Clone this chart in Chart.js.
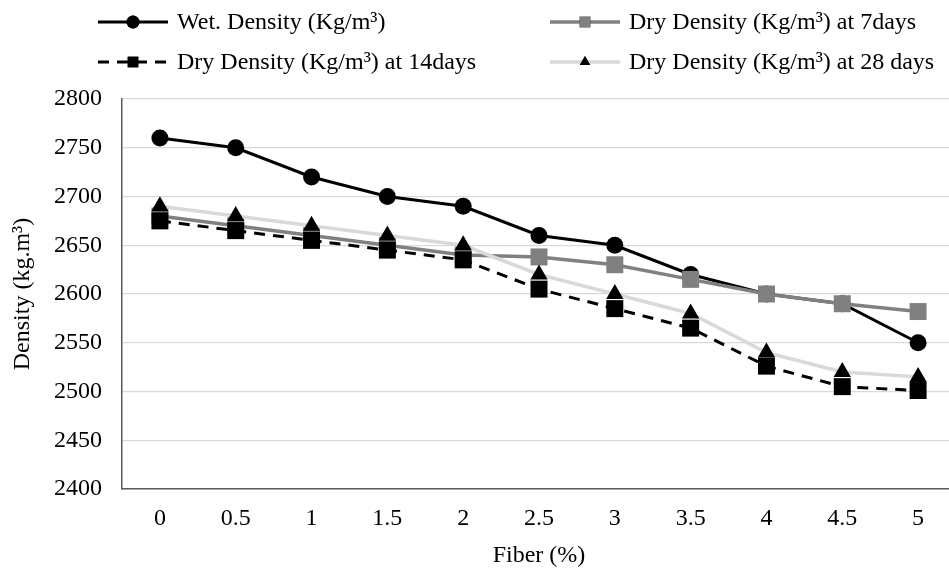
<!DOCTYPE html>
<html lang="en">
  <head>
    <meta charset="UTF-8" />
    <title>Density vs Fiber</title>
    <script src="https://cdn.jsdelivr.net/npm/chart.js"></script>
    <style>
      html, body { margin: 0; padding: 0; background: #fff; overflow: hidden; }
      #wrap { width: 949px; height: 575px; overflow: hidden; }
    </style>
  </head>
  <body>
    <div id="wrap">
      <canvas id="chart" width="968" height="575"></canvas>
    </div>

    <script>
      const fiber = ["0", "0.5", "1", "1.5", "2", "2.5", "3", "3.5", "4", "4.5", "5"];
      const wetDensity = [2760, 2750, 2720, 2700, 2690, 2660, 2650, 2620, 2600, 2590, 2550];
      const dry7 = [2680, 2670, 2660, 2650, 2640, 2638, 2630, 2615, 2600, 2590, 2582];
      const dry14 = [2675, 2665, 2655, 2645, 2635, 2605, 2585, 2565, 2526, 2505, 2501];
      const dry28 = [2690, 2680, 2670, 2660, 2650, 2620, 2600, 2580, 2540, 2520, 2515];

      const FONT = "'Liberation Serif', 'Times New Roman', serif";
      const SIZE = 24;

      // legend drawn by hand: line with marker in the middle, 2 columns x 2 rows
      const legendSpots = [
        { x: 98, y: 22 },
        { x: 550, y: 22 },
        { x: 98, y: 62 },
        { x: 550, y: 62 },
      ];
      const legendMarkers = [
        { style: "circle", r: 6.5 },
        { style: "rect", r: 7.5 },
        { style: "rect", r: 7.5 },
        { style: "triangle", r: 6 },
      ];

      const legendPlugin = {
        id: "lineLegend",
        afterDraw(chart) {
          const ctx = chart.ctx;
          chart.data.datasets.forEach((ds, i) => {
            const p = legendSpots[i];
            const m = legendMarkers[i];
            ctx.save();
            ctx.strokeStyle = ds.borderColor;
            ctx.lineWidth = ds.borderWidth;
            ctx.setLineDash(ds.borderDash || []);
            ctx.beginPath();
            ctx.moveTo(p.x, p.y);
            ctx.lineTo(p.x + 70, p.y);
            ctx.stroke();
            ctx.setLineDash([]);
            Chart.helpers.drawPoint(ctx, {
              pointStyle: m.style,
              radius: m.r,
              rotation: 0,
              borderWidth: 0,
            }, p.x + 35, p.y);
            ctx.fillStyle = ds.pointBackgroundColor;
            ctx.fill();
            ctx.fillStyle = "#000";
            ctx.font = SIZE + "px " + FONT;
            ctx.textBaseline = "middle";
            ctx.fillText(ds.label, p.x + 79, p.y + 1);
            ctx.restore();
          });
        },
      };

      new Chart(document.getElementById("chart"), {
        type: "line",
        data: {
          labels: fiber,
          datasets: [
            {
              label: "Wet. Density (Kg/m³)",
              data: wetDensity,
              borderColor: "#000000",
              borderWidth: 3,
              pointStyle: "circle",
              pointRadius: 8.5,
              pointBackgroundColor: "#000000",
              pointBorderWidth: 0,
              order: 3,
            },
            {
              label: "Dry Density (Kg/m³) at 7days",
              data: dry7,
              borderColor: "#808080",
              borderWidth: 3.5,
              pointStyle: "rect",
              pointRadius: 12,
              pointBackgroundColor: "#808080",
              pointBorderWidth: 0,
              order: 2,
            },
            {
              label: "Dry Density (Kg/m³) at 14days",
              data: dry14,
              borderColor: "#000000",
              borderWidth: 3,
              borderDash: [11, 8],
              pointStyle: "rect",
              pointRadius: 12,
              pointBackgroundColor: "#000000",
              pointBorderWidth: 0,
              order: 1,
            },
            {
              label: "Dry Density (Kg/m³) at 28 days",
              data: dry28,
              borderColor: "#d9d9d9",
              borderWidth: 3.5,
              pointStyle: "triangle",
              pointRadius: 10,
              pointBackgroundColor: "#000000",
              pointBorderWidth: 0,
              order: 0,
            },
          ],
        },
        options: {
          responsive: false,
          animation: false,
          layout: { padding: { top: 99, right: 0, bottom: 5, left: 0 } },
          elements: { line: { tension: 0 } },
          plugins: {
            legend: { display: false },
            tooltip: { enabled: false },
          },
          scales: {
            x: {
              offset: true,
              afterFit: (scale) => { scale.height = 81; },
              grid: { display: false, drawTicks: false, offset: true },
              border: { display: true, color: "#595959", width: 1.5 },
              ticks: {
                color: "#000",
                padding: 15,
                maxRotation: 0,
                font: { family: FONT, size: SIZE },
              },
              title: {
                display: true,
                text: "Fiber (%)",
                color: "#000",
                padding: { top: 0, bottom: 0 },
                font: { family: FONT, size: SIZE },
              },
            },
            y: {
              min: 2400,
              max: 2800,
              afterFit: (scale) => { scale.width = 122; },
              grid: { color: "#d9d9d9", lineWidth: 1.3, drawTicks: false },
              border: { display: true, color: "#595959", width: 1.5 },
              ticks: {
                stepSize: 50,
                color: "#000",
                padding: 20,
                callback: (v) => String(v),
                font: { family: FONT, size: SIZE },
              },
              title: {
                display: true,
                text: "Density (kg.m³)",
                color: "#000",
                padding: { top: 8, bottom: 0 },
                font: { family: FONT, size: SIZE },
              },
            },
          },
        },
        plugins: [legendPlugin],
      });
    </script>
  </body>
</html>
